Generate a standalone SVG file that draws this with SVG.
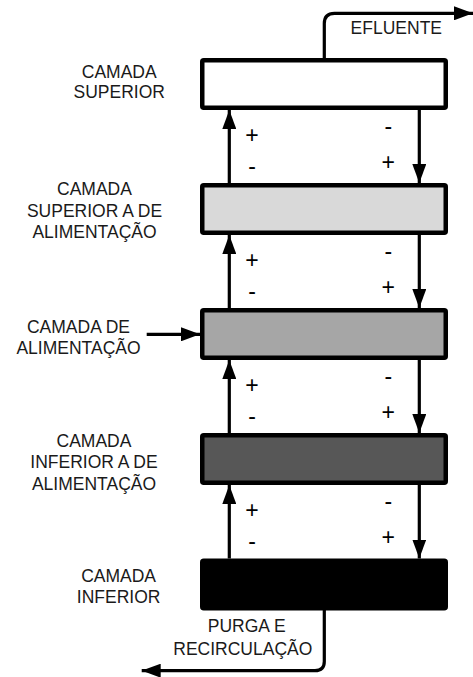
<svg xmlns="http://www.w3.org/2000/svg" width="473" height="677" viewBox="0 0 473 677">
<defs>
<marker id="ah" markerWidth="19" markerHeight="14" refX="19" refY="7" orient="auto" markerUnits="userSpaceOnUse">
<path d="M0,0 L19,7 L0,14 Z" fill="#000"/>
</marker>
<style>
.box{stroke:#000;stroke-width:4.5;stroke-linejoin:round}
.ln{fill:none;stroke:#000;stroke-width:3.2}
text{font-family:"Liberation Sans",Arial,sans-serif;font-size:17.5px;fill:#1a1a1a;text-anchor:middle}
.pm{font-size:23px;fill:#000}
</style>
</defs>
<rect width="473" height="677" fill="#fff"/>
<g id="connectors">
<path class="ln" d="M324.3,58 V23.5 Q324.3,13.3 334.5,13.3 H473" marker-end="url(#ah)"/>
<path class="ln" d="M229.3,183 V110" marker-end="url(#ah)"/>
<path class="ln" d="M419.3,110 V183" marker-end="url(#ah)"/>
<path class="ln" d="M229.3,308 V235" marker-end="url(#ah)"/>
<path class="ln" d="M419.3,235 V308" marker-end="url(#ah)"/>
<path class="ln" d="M146.7,334.3 H200" marker-end="url(#ah)"/>
<path class="ln" d="M229.3,433 V360" marker-end="url(#ah)"/>
<path class="ln" d="M419.3,360 V433" marker-end="url(#ah)"/>
<path class="ln" d="M229.3,558.5 V485" marker-end="url(#ah)"/>
<path class="ln" d="M419.3,485 V558.5" marker-end="url(#ah)"/>
<path class="ln" d="M324.3,610 V661.5 Q324.3,670.7 315,670.7 H141.7" marker-end="url(#ah)"/>
</g>
<g id="n1">
<rect class="box" x="202.25" y="60.25" width="243.5" height="47.5" rx="1.5" fill="#fff"/>
<text x="119.2" y="78.3">CAMADA</text>
<text x="119.2" y="98.3">SUPERIOR</text>
</g>
<g id="n2">
<rect class="box" x="202.25" y="185.25" width="243.5" height="47.5" rx="1.5" fill="#d9d9d9"/>
<text x="94.5" y="195">CAMADA</text>
<text x="94.5" y="216.5">SUPERIOR A DE</text>
<text x="94.5" y="237.7">ALIMENTAÇÃO</text>
</g>
<g id="n3">
<rect class="box" x="202.25" y="310.25" width="243.5" height="47.5" rx="1.5" fill="#a6a6a6"/>
<text x="78.5" y="333.3">CAMADA DE</text>
<text x="78.5" y="354.3">ALIMENTAÇÃO</text>
</g>
<g id="n4">
<rect class="box" x="202.25" y="435.25" width="243.5" height="47.5" rx="1.5" fill="#575757"/>
<text x="94" y="446.7">CAMADA</text>
<text x="94" y="467.7">INFERIOR A DE</text>
<text x="94" y="490">ALIMENTAÇÃO</text>
</g>
<g id="n5">
<rect class="box" x="202.25" y="560.75" width="243.5" height="47.5" rx="1.5" fill="#000"/>
<text x="118.6" y="581.7">CAMADA</text>
<text x="118.6" y="602.7">INFERIOR</text>
</g>
<g id="labels">
<text x="396.3" y="34">EFLUENTE</text>
<text x="246.7" y="631.7">PURGA E</text>
<text x="242.8" y="655">RECIRCULAÇÃO</text>
</g>
<g id="signs">
<text class="pm" x="252" y="143">+</text><text class="pm" x="252" y="173.5">-</text>
<text class="pm" x="388.3" y="133.5">-</text><text class="pm" x="388.3" y="170">+</text>
<text class="pm" x="252" y="267.5">+</text><text class="pm" x="252" y="299">-</text>
<text class="pm" x="388.3" y="259">-</text><text class="pm" x="388.3" y="294.5">+</text>
<text class="pm" x="252" y="392.5">+</text><text class="pm" x="252" y="424">-</text>
<text class="pm" x="388.3" y="384">-</text><text class="pm" x="388.3" y="419.5">+</text>
<text class="pm" x="252" y="517.5">+</text><text class="pm" x="252" y="549">-</text>
<text class="pm" x="388.3" y="509">-</text><text class="pm" x="388.3" y="544.5">+</text>
</g>
</svg>
